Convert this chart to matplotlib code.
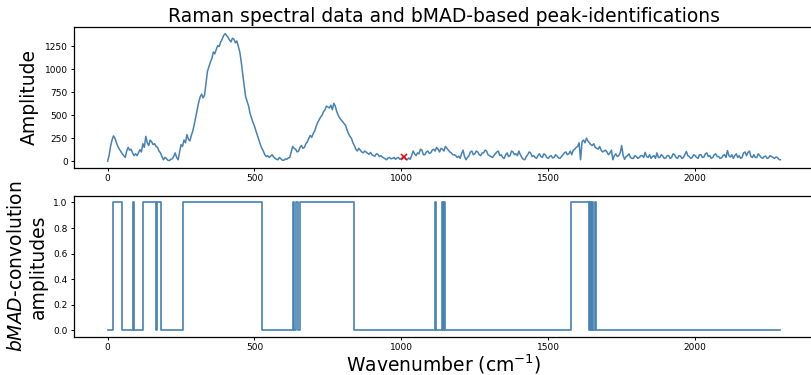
import numpy as np
import matplotlib
matplotlib.use("Agg")
import matplotlib.pyplot as plt

wavenumber = np.arange(0, 2295, 5)
amplitude = [
    0, 60, 160, 230, 275, 250, 200, 160, 130, 105, 80, 60, 40, 110, 150, 120, 130, 90, 60, 80,
    60, 90, 125, 100, 190, 150, 270, 200, 170, 230, 210, 180, 190, 160, 150, 110, 90, 50, 15, 40,
    30, 10, 5, 20, 25, 50, 90, 40, 15, 100, 180, 160, 230, 200, 290, 240, 220, 280, 330, 400,
    480, 560, 640, 700, 730, 690, 720, 850, 980, 1030, 1080, 1120, 1190, 1170, 1220, 1260, 1250, 1300, 1330, 1370,
    1390, 1370, 1350, 1320, 1300, 1340, 1330, 1290, 1310, 1250, 1190, 1080, 950, 820, 700, 650, 600, 520, 470, 420,
    380, 330, 280, 230, 180, 140, 110, 70, 50, 60, 40, 55, 70, 45, 30, 20, 15, 40, 25, 10,
    10, 25, 20, 35, 40, 100, 160, 140, 130, 100, 110, 150, 170, 140, 150, 190, 210, 250, 280, 260,
    300, 330, 380, 420, 450, 480, 500, 540, 560, 600, 590, 580, 610, 560, 630, 600, 540, 500, 470, 450,
    430, 410, 390, 340, 300, 270, 250, 200, 170, 130, 110, 140, 120, 100, 90, 110, 100, 85, 75, 95,
    70, 60, 55, 80, 75, 50, 60, 45, 35, 25, 15, 35, 40, 25, 30, 40, 20, 35, 40, 20,
    30, 45, 50, 20, 15, 35, 20, 60, 110, 80, 60, 90, 80, 130, 120, 70, 70, 100, 110, 85,
    90, 120, 130, 110, 150, 130, 100, 140, 130, 110, 160, 140, 120, 100, 90, 70, 70, 60, 40, 55,
    30, 80, 120, 50, 15, 40, 60, 100, 110, 70, 80, 110, 100, 70, 60, 90, 90, 120, 110, 70,
    60, 50, 40, 60, 80, 100, 110, 60, 70, 40, 30, 70, 90, 50, 60, 110, 100, 70, 80, 60,
    110, 70, 40, 20, 15, 50, 70, 100, 90, 50, 60, 40, 30, 60, 80, 50, 40, 80, 70, 40,
    30, 50, 60, 35, 40, 70, 55, 35, 30, 50, 70, 90, 100, 70, 80, 110, 70, 120, 130, 150,
    160, 200, 15, 210, 230, 200, 250, 220, 200, 180, 170, 190, 150, 140, 130, 160, 120, 100, 110, 120,
    100, 70, 90, 120, 15, 60, 80, 50, 60, 90, 170, 60, 20, 50, 60, 80, 40, 30, 30, 60,
    50, 30, 40, 60, 60, 40, 95, 50, 40, 70, 30, 50, 60, 30, 90, 40, 40, 70, 55, 30,
    35, 60, 60, 30, 40, 80, 70, 40, 30, 60, 55, 30, 40, 70, 105, 60, 50, 30, 40, 70,
    60, 40, 30, 70, 70, 40, 45, 80, 90, 50, 60, 30, 40, 70, 80, 50, 50, 30, 35, 60,
    70, 40, 115, 60, 45, 70, 30, 60, 80, 40, 60, 30, 40, 90, 100, 60, 95, 110, 50, 40,
    70, 40, 40, 80, 60, 40, 30, 50, 55, 30, 35, 60, 50, 40, 30, 45, 40, 20, 15,
]

peak_x = [1010]
peak_y = [50]

# bMAD convolution output: switch points and the level after each
conv_edges = [0, 20, 49, 85, 90, 122, 164, 167, 182, 256, 525,
              631, 636, 642, 648, 655, 840, 1113, 1117, 1137, 1141,
              1145, 1149, 1576, 1638, 1642, 1646, 1650, 1654, 1658,
              1662, 2290]
conv_vals = [0, 1, 0, 1, 0, 1, 0, 1, 0, 1, 0,
             1, 0, 1, 0, 1, 0, 1, 0, 1, 0,
             1, 0, 1, 0, 1, 0, 1, 0, 1,
             0, 0]

color = "steelblue"

fig = plt.figure(figsize=(8.12, 3.75), dpi=100)
ax1 = fig.add_axes([0.0911, 0.5533, 0.9113, 0.374])
ax2 = fig.add_axes([0.0911, 0.1021, 0.9113, 0.375])

ax1.plot(wavenumber, amplitude, color=color, lw=1.1)
ax1.plot(peak_x, peak_y, "x", color="red", ms=5, mew=1.1)
ax1.set_title("Raman spectral data and bMAD-based peak-identifications",
              fontsize=13.5, pad=4)
ax1.set_ylabel("Amplitude", fontsize=13.5, labelpad=4)

ax2.step(conv_edges, conv_vals, where="post", color=color, lw=1.2)
ax2.set_xlabel("Wavenumber (cm$^{-1}$)", fontsize=13.5, labelpad=0.5)
ax2.set_ylabel("$bMAD$-convolution\namplitudes", fontsize=13.5, labelpad=4)

for ax in (ax1, ax2):
    ax.tick_params(labelsize=6.5, length=2.5, width=0.7, pad=2)
    ax.set_xticks([0, 500, 1000, 1500, 2000])
    for s in ax.spines.values():
        s.set_linewidth(0.9)

fig.savefig("out.png", dpi=100)
